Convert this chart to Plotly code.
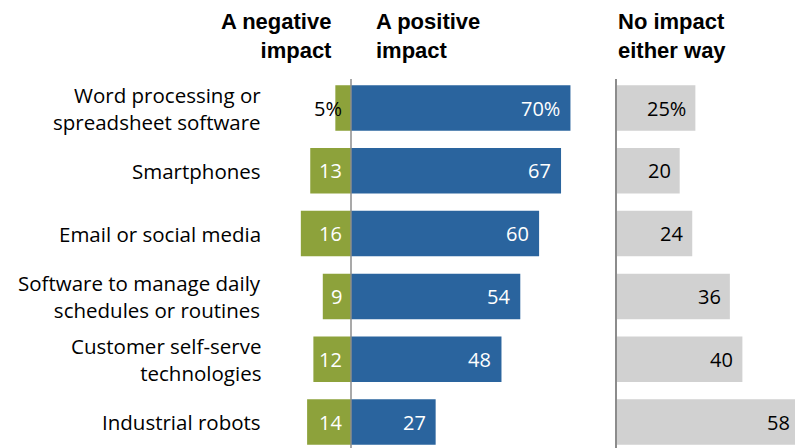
import plotly.graph_objects as go

# Survey results: impact of each technology on respondents' jobs/careers
categories = [
    "Word processing or<br>spreadsheet software",
    "Smartphones",
    "Email or social media",
    "Software to manage daily<br>schedules or routines",
    "Customer self-serve<br>technologies",
    "Industrial robots",
]
negative = [5, 13, 16, 9, 12, 14]
positive = [70, 67, 60, 54, 48, 27]
no_impact = [25, 20, 24, 36, 40, 58]

headers = ["A negative<br>impact", "A positive<br>impact", "No impact<br>either way"]

W, H = 795, 448
GREEN = "#8DA23B"
BLUE = "#2A649E"
GRAY = "#D1D1D1"
AXIS_GRAY = "#8C8C8C"
LABEL_FONT = "Open Sans, DejaVu Sans, sans-serif"
HEAD_FONT = "Liberation Sans, Arial, sans-serif"

rows = list(range(len(categories)))
bar_w = 0.725


def px(x):
    return x / W


def py(y):
    return 1 - y / H


plot_top = py(79)

scale = 3.135  # pixels per percentage point
x1_left, x1_zero, x1_right = 270, 351, 590
x2_left = 617
x2_max = (W - x2_left) / scale

fig = go.Figure()
fig.add_trace(go.Bar(y=rows, x=[-v for v in negative], orientation="h",
                     marker=dict(color=GREEN, line=dict(width=0)), width=bar_w,
                     xaxis="x", yaxis="y", hoverinfo="skip"))
fig.add_trace(go.Bar(y=rows, x=positive, orientation="h",
                     marker=dict(color=BLUE, line=dict(width=0)), width=bar_w,
                     xaxis="x", yaxis="y", hoverinfo="skip"))
fig.add_trace(go.Bar(y=rows, x=no_impact, orientation="h",
                     marker=dict(color=GRAY, line=dict(width=0)), width=bar_w,
                     xaxis="x2", yaxis="y2", hoverinfo="skip"))

annotations = []

# Category labels, right-aligned to the left of the chart
for i, cat in enumerate(categories):
    annotations.append(dict(
        text=cat, xref="paper", x=px(263), xanchor="right", align="right",
        yref="y", y=i, yanchor="middle", showarrow=False,
        font=dict(family=LABEL_FONT, size=20.5, color="#000000")))

# Value labels
for i in rows:
    suffix = "%" if i == 0 else ""
    neg_color = "#000000" if negative[i] < 8 else "#FFFFFF"
    annotations.append(dict(
        text=f"{negative[i]}{suffix}", xref="x", x=0, xshift=-7, xanchor="right",
        yref="y", y=i, yanchor="middle", showarrow=False,
        font=dict(family=LABEL_FONT, size=20, color=neg_color)))
    annotations.append(dict(
        text=f"{positive[i]}{suffix}", xref="x", x=positive[i], xshift=-8,
        xanchor="right", yref="y", y=i, yanchor="middle", showarrow=False,
        font=dict(family=LABEL_FONT, size=20, color="#FFFFFF")))
    # bars running past the panel edge still get their label near the bar end
    if no_impact[i] <= x2_max:
        gx, gref = no_impact[i], "x2"
    else:
        gx, gref = px(x2_left + no_impact[i] * scale), "paper"
    annotations.append(dict(
        text=f"{no_impact[i]}{suffix}", xref=gref, x=gx, xshift=-7,
        xanchor="right", yref="y2", y=i, yanchor="middle", showarrow=False,
        font=dict(family=LABEL_FONT, size=20, color="#000000")))

# Column headers
head_y = py(36)
head_font = dict(family=HEAD_FONT, size=22, color="#000000", weight="bold")
annotations.append(dict(text=headers[0], xref="paper", x=px(334), xanchor="right",
                        align="right", yref="paper", y=head_y, yanchor="middle",
                        showarrow=False, font=head_font))
annotations.append(dict(text=headers[1], xref="paper", x=px(374), xanchor="left",
                        align="left", yref="paper", y=head_y, yanchor="middle",
                        showarrow=False, font=head_font))
annotations.append(dict(text=headers[2], xref="paper", x=px(616), xanchor="left",
                        align="left", yref="paper", y=head_y, yanchor="middle",
                        showarrow=False, font=head_font))

yrange = [-0.4618 + (H - 79) / 62.8, -0.4618]

fig.update_layout(
    width=W, height=H,
    margin=dict(l=0, r=0, t=0, b=0),
    paper_bgcolor="#FFFFFF", plot_bgcolor="rgba(0,0,0,0)",
    showlegend=False, barmode="overlay",
    xaxis=dict(domain=[px(x1_left), px(x1_right)],
               range=[-(x1_zero - x1_left) / scale, (x1_right - x1_zero) / scale],
               visible=False, fixedrange=True),
    yaxis=dict(domain=[0, plot_top], range=yrange, visible=False, fixedrange=True),
    xaxis2=dict(domain=[px(x2_left), 1], range=[0, x2_max],
                visible=False, fixedrange=True, anchor="y2"),
    yaxis2=dict(domain=[0, plot_top], range=yrange, anchor="x2",
                showline=True, linecolor=AXIS_GRAY, linewidth=1.5,
                showticklabels=False, showgrid=False, zeroline=False,
                ticks="", fixedrange=True),
    annotations=annotations,
    shapes=[dict(type="line", xref="x", x0=0, x1=0, yref="paper",
                 y0=0, y1=plot_top, layer="above",
                 line=dict(color=AXIS_GRAY, width=1.5))],
)

fig.write_html("out.html")
